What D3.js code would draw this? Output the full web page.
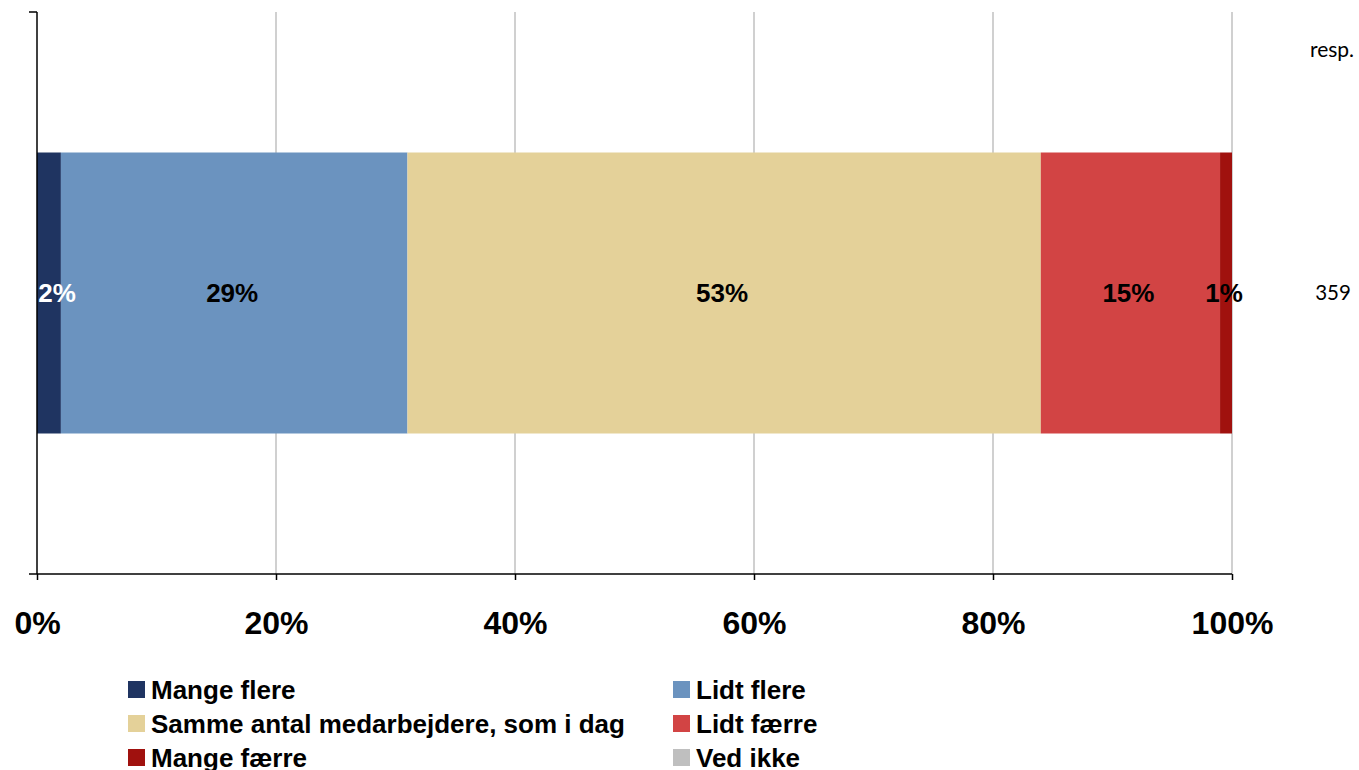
<!DOCTYPE html>
<html><head><meta charset="utf-8">
<script src="https://cdn.jsdelivr.net/npm/d3@7/dist/d3.min.js"></script>
<style>body{margin:0;background:#fff}</style>
</head><body><svg id="c" width="1359" height="770"></svg>
<script>
const categories = ["Mange flere","Lidt flere","Samme antal medarbejdere, som i dag","Lidt færre","Mange færre","Ved ikke"];
const values = [2, 29, 53, 15, 1, 0];
const colors = ["#1F3461","#6B93BF","#E4D199","#D24444","#A0110E","#BFBFBF"];
const labelColors = ["#fff","#000","#000","#000","#000","#000"];
const ticks = [0,20,40,60,80,100];
const respCount = "359";

const svg = d3.select("#c");
const x = d3.scaleLinear().domain([0,100]).range([37,1232]);
const y = d3.scaleBand().domain(["r"]).range([12,574]).paddingInner(0).paddingOuter(0.5);

// gridlines
svg.append("g").selectAll("line").data(ticks.filter(t=>t>0)).join("line")
  .attr("x1",d=>x(d)).attr("x2",d=>x(d)).attr("y1",12).attr("y2",574)
  .attr("stroke","#C0C0C0").attr("stroke-width",1.5);

// stacked segments
let cum = 0;
const segs = values.map((v,i)=>{const s={i,v,x0:cum,x1:cum+v}; cum+=v; return s;});
svg.append("g").selectAll("rect").data(segs.filter(s=>s.v>0)).join("rect")
  .attr("x",d=>x(d.x0)).attr("width",d=>x(d.x1)-x(d.x0))
  .attr("y",y("r")).attr("height",y.bandwidth())
  .attr("fill",d=>colors[d.i]);

svg.append("g").selectAll("text").data(segs.filter(s=>s.v>0)).join("text")
  .attr("x",d=>d.x0===0 ? Math.max((x(d.x0)+x(d.x1))/2, x(d.x0)+20) : (x(d.x0)+x(d.x1))/2 - 2)
  .attr("y",y("r")+y.bandwidth()/2)
  .attr("dy","0.36em").attr("text-anchor","middle")
  .attr("font-family","Liberation Sans, Arial, sans-serif").attr("font-weight","bold").attr("font-size",26)
  .attr("fill",d=>labelColors[d.i]).text(d=>d.v+"%");

// axes
const xAxis = svg.append("g").attr("transform","translate(0,574)")
  .call(d3.axisBottom(x).tickValues(ticks).tickFormat(d=>d+"%").tickSize(6).tickPadding(31).tickSizeOuter(0));
xAxis.select(".domain").remove();
xAxis.selectAll("line").attr("stroke","#000").attr("stroke-width",1.5);
xAxis.selectAll("text").attr("font-family","Liberation Sans, Arial, sans-serif").attr("font-weight","bold").attr("font-size",32).attr("fill","#000");
svg.append("line").attr("x1",29).attr("x2",1232).attr("y1",574).attr("y2",574).attr("stroke","#000").attr("stroke-width",1.5);
svg.append("line").attr("x1",37).attr("x2",37).attr("y1",12).attr("y2",574).attr("stroke","#000").attr("stroke-width",1.5);
svg.append("line").attr("x1",29).attr("x2",37).attr("y1",12).attr("y2",12).attr("stroke","#000").attr("stroke-width",1.5);

// resp column
svg.append("text").attr("x",1332).attr("y",57).attr("text-anchor","middle")
  .attr("font-family","Lato, sans-serif").attr("font-size",21).attr("fill","#000").text("resp.");
svg.append("text").attr("x",1333).attr("y",y("r")+y.bandwidth()/2).attr("dy","0.36em").attr("text-anchor","middle")
  .attr("font-family","Lato, sans-serif").attr("font-size",20.5).attr("fill","#000").text(respCount);

// legend
const lg = svg.append("g");
categories.forEach((c,i)=>{
  const col=i%2, row=Math.floor(i/2);
  const gx = col===0?128:673, gy = 689+row*34;
  lg.append("rect").attr("x",gx).attr("y",gy-8).attr("width",17).attr("height",17).attr("fill",colors[i]);
  lg.append("text").attr("x",gx+23).attr("y",gy+1).attr("dy","0.36em")
    .attr("font-family","Liberation Sans, Arial, sans-serif").attr("font-weight","bold").attr("font-size",26).attr("fill","#000").text(c);
});
</script></body></html>
